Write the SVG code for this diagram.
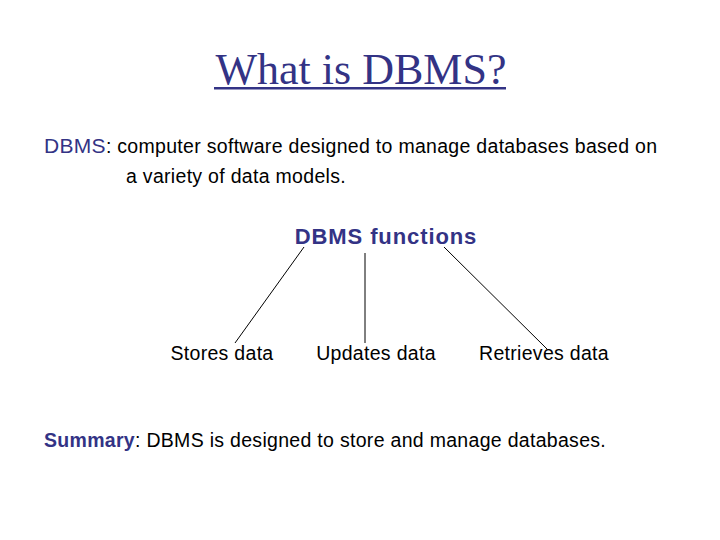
<svg xmlns="http://www.w3.org/2000/svg" width="720" height="540" viewBox="0 0 720 540">
<style>
.s{font-family:"Liberation Sans",Arial,sans-serif;font-size:19.5px;fill:#000;letter-spacing:0.3px}
.b{fill:#333385}
.l{stroke:#000;stroke-width:1;fill:none}
</style>
<rect width="720" height="540" fill="#fff"/>
<g id="title"><text x="361" y="84" text-anchor="middle" font-family="Liberation Serif,Times New Roman,serif" font-size="44" fill="#333385">What is DBMS?</text>
<rect x="214" y="87" width="292" height="2.5" fill="#333385"/></g>
<g id="def"><text class="s" x="44" y="153"><tspan class="b" style="font-size:21px">DBMS</tspan>: computer software designed to manage databases based on</text>
<text class="s" x="126" y="183">a variety of data models.</text></g>
<g id="functions"><text class="s b" x="386" y="244" text-anchor="middle" style="font-size:22px;font-weight:bold;letter-spacing:0.9px">DBMS functions</text></g>
<g id="stores"><text class="s" x="222" y="360" text-anchor="middle">Stores data</text></g>
<g id="updates"><text class="s" x="376" y="360" text-anchor="middle">Updates data</text></g>
<g id="retrieves"><text class="s" x="544" y="360" text-anchor="middle">Retrieves data</text></g>
<g id="connectors">
<line class="l" x1="304" y1="247" x2="235" y2="343"/>
<line class="l" x1="365" y1="253" x2="365" y2="343"/>
<line class="l" x1="444" y1="247" x2="547" y2="349"/>
</g>
<g id="summary"><text class="s" x="44" y="447"><tspan class="b" font-weight="bold">Summary</tspan>: DBMS is designed to store and manage databases.</text></g>
</svg>
